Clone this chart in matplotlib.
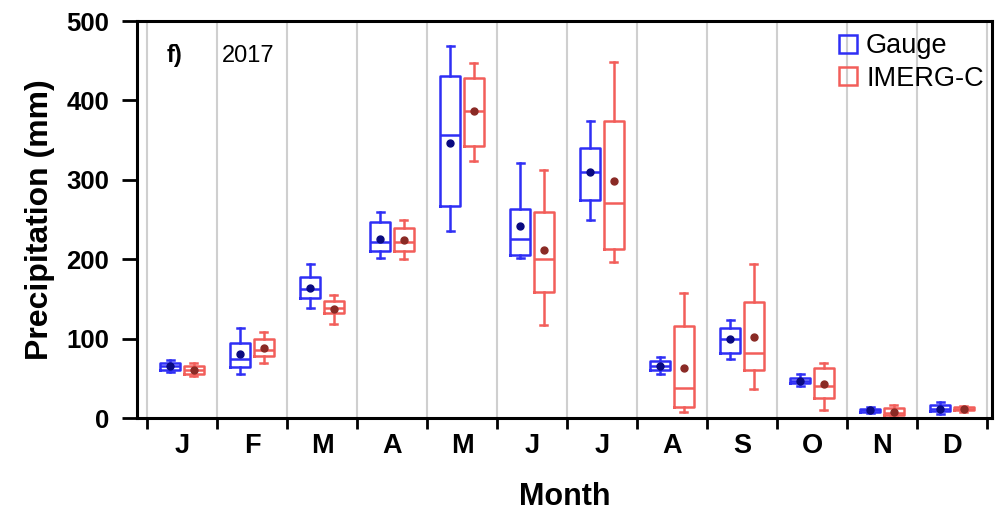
import numpy as np
import matplotlib
matplotlib.use('Agg')
import matplotlib.pyplot as plt
from matplotlib.patches import Patch

plt.rcParams['font.family'] = ['Liberation Sans', 'DejaVu Sans']

## monthly precipitation summaries (mm)
months = ['J', 'F', 'M', 'A', 'M', 'J', 'J', 'A', 'S', 'O', 'N', 'D']

gauge_lo = [58, 55, 139, 202, 236, 201, 249, 56, 75, 40, 6, 5]
gauge_q1 = [61, 64, 151, 211, 267, 205, 275, 60, 82, 44, 8, 9]
gauge_med = [65, 74, 162, 222, 357, 225, 310, 66, 100, 47, 10, 12]
gauge_q3 = [69, 95, 178, 247, 431, 263, 340, 72, 113, 51, 12, 16]
gauge_hi = [73, 114, 194, 259, 468, 321, 374, 77, 124, 55, 14, 20]
gauge_mean = [65, 81, 164, 226, 347, 242, 310, 66, 100, 47, 10, 12]

imerg_lo = [53, 69, 119, 200, 324, 117, 196, 8, 37, 10, 2, 8]
imerg_q1 = [56, 78, 132, 211, 343, 159, 213, 14, 60, 25, 4, 10]
imerg_med = [60, 86, 139, 222, 387, 200, 271, 38, 82, 40, 7, 12]
imerg_q3 = [65, 100, 147, 240, 428, 260, 374, 116, 146, 63, 13, 14]
imerg_hi = [69, 109, 155, 249, 447, 312, 448, 158, 194, 70, 17, 15]
imerg_mean = [60, 88, 138, 224, 387, 212, 299, 63, 102, 43, 8, 12]


def make_stats(lo, q1, med, q3, hi, mean):
    return [dict(whislo=a, q1=b, med=c, q3=d, whishi=e, mean=f, fliers=[])
            for a, b, c, d, e, f in zip(lo, q1, med, q3, hi, mean)]


gauge_stats = make_stats(gauge_lo, gauge_q1, gauge_med, gauge_q3, gauge_hi, gauge_mean)
imerg_stats = make_stats(imerg_lo, imerg_q1, imerg_med, imerg_q3, imerg_hi, imerg_mean)

blue = '#2f2ff5'
red = '#f25e5a'

fig = plt.figure(figsize=(10.08, 5.13), dpi=100)
ax = fig.add_axes([0.136, 0.185, 0.848, 0.774])

x = np.arange(1, 13)
bounds = np.arange(0.5, 13.0, 1.0)

# month separators
for b in bounds:
    ax.axvline(b, color='#cfcfcf', lw=1.5, zorder=0)


def draw(stats, pos, col, mcol):
    ax.bxp(stats, positions=pos, widths=0.28, capwidths=0.1, showmeans=True,
           showfliers=False, manage_ticks=False, patch_artist=False,
           boxprops=dict(color=col, lw=1.8),
           whiskerprops=dict(color=col, lw=1.8),
           capprops=dict(color=col, lw=1.8),
           medianprops=dict(color=col, lw=1.8),
           meanprops=dict(marker='o', markersize=5, markerfacecolor=mcol,
                          markeredgecolor=mcol))


draw(gauge_stats, x - 0.17, blue, '#0a0a80')
draw(imerg_stats, x + 0.17, red, '#8a2a25')

ax.set_xlim(0.357, 12.571)
ax.set_ylim(0, 500)

ax.set_xticks(bounds)
ax.set_xticklabels([])
ax.set_xticks(x, minor=True)
ax.set_xticklabels(months, minor=True, fontsize=19.5, fontweight='bold')
ax.tick_params(axis='x', which='major', direction='out', length=8, width=2)
ax.tick_params(axis='x', which='minor', length=0, pad=11)

ax.set_yticks([0, 100, 200, 300, 400, 500])
ax.set_yticklabels(['0', '100', '200', '300', '400', '500'],
                   fontsize=18.5, fontweight='bold')
ax.tick_params(axis='y', direction='out', length=11, width=2, pad=9)

for s in ax.spines.values():
    s.set_linewidth(2.2)

ax.set_xlabel('Month', fontsize=22, fontweight='bold', labelpad=16)
ax.set_ylabel('Precipitation (mm)', fontsize=23, fontweight='bold', labelpad=8)

ax.text(0.786, 456, 'f)', fontsize=17, fontweight='bold', va='center')
ax.text(1.57, 456, '2017', fontsize=17, va='center')

handles = [Patch(facecolor='none', edgecolor=blue, lw=1.8, label='Gauge'),
           Patch(facecolor='none', edgecolor=red, lw=1.8, label='IMERG-C')]
ax.legend(handles=handles, loc='upper right', bbox_to_anchor=(1.0, 0.99),
          frameon=False, fontsize=19.5, handlelength=0.65, handleheight=0.65,
          handletextpad=0.35, borderaxespad=0.1, borderpad=0.2,
          labelspacing=0.25)

plt.savefig('out.png', dpi=100)
